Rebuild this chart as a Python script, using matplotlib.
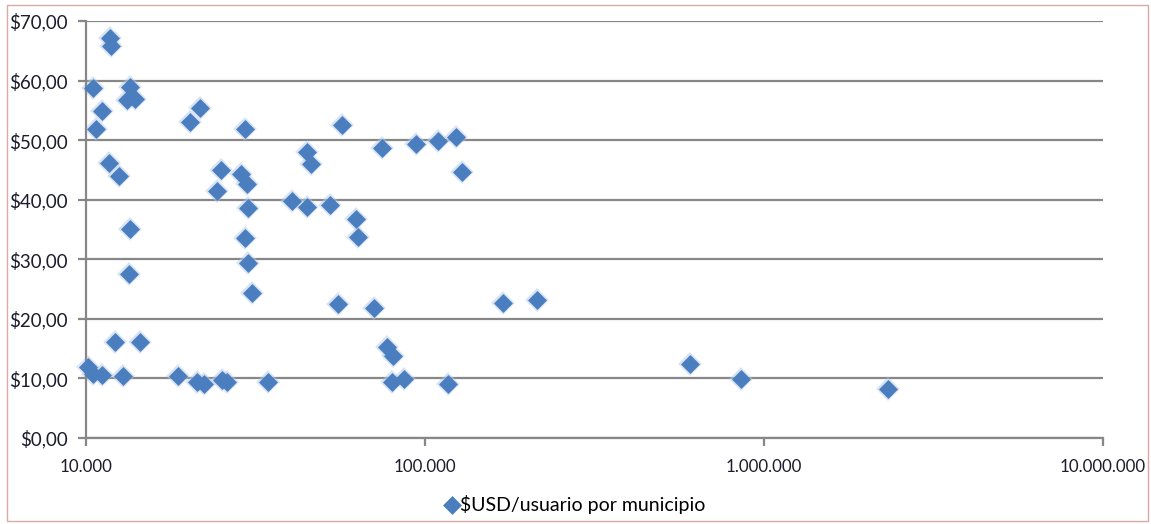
import matplotlib.pyplot as plt
from matplotlib.patches import Rectangle
from matplotlib.ticker import FuncFormatter

# usuarios por municipio (eje x, log) y $USD/usuario (eje y)
usuarios = [11770, 11850, 10490, 13490, 13210, 13950, 11150, 10700, 21690, 20270,
            29440, 11690, 12510, 25020, 24350, 28660, 29750, 30060, 13490, 13390,
            29440, 30060, 30880, 12180, 14430, 10140, 10490, 11150, 12850, 18680,
            21250, 22290, 25190, 26060, 34430, 56920, 44870, 46100, 74700, 94080,
            109230, 123410, 128550, 40520, 44870, 52460, 62600, 63460, 55390, 70750,
            169900, 214000, 77280, 80500, 79950, 86770, 116900, 604800, 855300, 2322000]
usd_usuario = [67.1, 65.8, 58.7, 58.9, 56.7, 56.9, 54.9, 51.8, 55.4, 53.0,
               51.8, 46.1, 44.0, 45.0, 41.4, 44.3, 42.6, 38.6, 35.1, 27.5,
               33.6, 29.4, 24.3, 16.1, 16.1, 11.9, 10.7, 10.6, 10.4, 10.4,
               9.4, 9.1, 9.7, 9.4, 9.4, 52.5, 48.0, 46.0, 48.7, 49.3,
               49.8, 50.5, 44.6, 39.8, 38.8, 39.1, 36.7, 33.7, 22.5, 21.8,
               22.6, 23.2, 15.3, 13.8, 9.4, 9.9, 9.1, 12.4, 9.9, 8.2]
serie = '$USD/usuario por municipio'

plt.rcParams['font.family'] = ['Lato', 'DejaVu Sans']
gris = '#878787'
azul = '#4A7EBF'

fig = plt.figure(figsize=(11.51, 5.24), dpi=100)
ax = fig.add_axes([86/1151, 1 - 438/524, (1103 - 86)/1151, (438 - 21)/524])

# halo suave + diamante redondeado (estilo Excel)
ax.plot(usuarios, usd_usuario, linestyle='none', marker='D', ms=9, color='#B5CBE8',
        mec='#B5CBE8', mew=3, alpha=0.5, clip_on=False, zorder=2)
ax.plot(usuarios, usd_usuario, linestyle='none', marker='D', ms=7.5,
        color=azul, mec=azul, mew=2.5, markerfacecolor=azul,
        label=serie.replace('$', r'\$'), clip_on=False, zorder=3)
for l in ax.lines:
    l.set_solid_joinstyle('round')

ax.set_xscale('log')
ax.set_xlim(10000, 10000000)
ax.set_ylim(0, 70)
ax.set_yticks(range(0, 71, 10))
ax.set_xticks([10000, 100000, 1000000, 10000000])
ax.minorticks_off()
ax.xaxis.set_major_formatter(FuncFormatter(lambda v, p: f'{int(round(v)):,}'.replace(',', '.')))
ax.yaxis.set_major_formatter(FuncFormatter(lambda v, p: r'\$' + f'{v:.2f}'.replace('.', ',')))

ax.grid(axis='y', color=gris, linewidth=1.6, zorder=1)
for s in ['top', 'right']:
    ax.spines[s].set_visible(False)
for s in ['left', 'bottom']:
    ax.spines[s].set_color(gris)
    ax.spines[s].set_linewidth(1.6)
ax.tick_params(axis='both', colors=gris, width=1.6, length=6,
               labelcolor='#1c1c2c')
ax.tick_params(axis='y', pad=7, labelsize=13.5)
ax.tick_params(axis='x', pad=9, labelsize=12.2)

fig.legend(loc='lower center', bbox_to_anchor=(0.5, -0.015), frameon=False,
           fontsize=14, handlelength=0.6, handletextpad=0.1, markerscale=0.9)

fig.patches.append(Rectangle((7/1151, 3/524), 1141/1151, 516/524, transform=fig.transFigure,
                             fill=False, edgecolor='#D9A9A6', linewidth=1))

fig.savefig('out.png', dpi=100)
